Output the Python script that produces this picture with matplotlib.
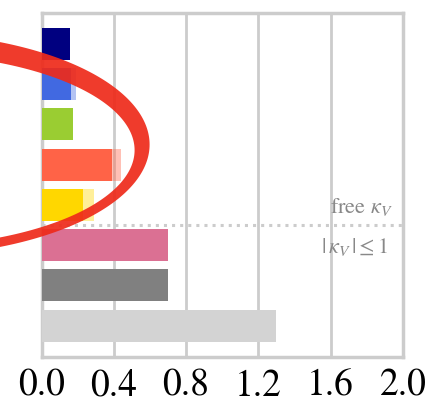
import numpy as np
import matplotlib
matplotlib.use("Agg")
import matplotlib.pyplot as plt
from matplotlib.path import Path
from matplotlib.patches import PathPatch

plt.rcParams['font.family'] = ['STIXGeneral', 'DejaVu Serif']
plt.rcParams['mathtext.fontset'] = 'stix'

# bar values, top to bottom
colors = ['navy', 'royalblue', 'yellowgreen', 'tomato', 'gold',
          'palevioletred', 'gray', 'lightgray']
values = [0.16, 0.165, 0.175, 0.39, 0.23, 0.70, 0.70, 1.30]
values_light = [0.16, 0.19, 0.175, 0.44, 0.29, 0.70, 0.70, 1.30]
xticks = [0.0, 0.4, 0.8, 1.2, 1.6, 2.0]
xtick_labels = ['0.0', '0.4', '0.8', '1.2', '1.6', '2.0']
split_pos = 4.5

# red crescent (outer / inner ellipse, data units)
outer = dict(cx=-0.787, cy=2.5, a=1.385, b=2.78)
inner = dict(cx=-0.787, cy=2.64, a=1.302, b=2.4)

fig = plt.figure(figsize=(4.27, 4.06), dpi=100)
ax = fig.add_axes([0.0972, 0.1182, 0.8466, 0.8485])

ypos = np.arange(len(values))
ax.barh(ypos, values_light, height=0.8, color=colors, alpha=0.4, zorder=2)
ax.barh(ypos, values, height=0.8, color=colors, zorder=3)

ax.set_xlim(0, 2.0)
ax.set_ylim(7.78, -0.78)
ax.set_xticks(xticks)
ax.set_xticklabels(xtick_labels, fontsize=27)
ax.set_yticks([])
ax.tick_params(axis='x', length=0, pad=8)
ax.xaxis.grid(True, color='#cccccc', lw=2.0, zorder=1)
ax.set_axisbelow(True)
for s in ax.spines.values():
    s.set_color('#cccccc')
    s.set_linewidth(2.5)

ax.axhline(split_pos, color='#cccccc', lw=2.2, ls=':', zorder=4)
ax.text(1.945, 4.175, r'free $\kappa_V$', ha='right', va='baseline',
        fontsize=16, color='#888888')
ax.text(1.92, 5.17, r'$|\,\kappa_V\,| \leq 1$', ha='right', va='baseline',
        fontsize=16, color='#888888')

t = np.linspace(0, 2 * np.pi, 400)
ox = outer['cx'] + outer['a'] * np.cos(t)
oy = outer['cy'] + outer['b'] * np.sin(t)
ix = inner['cx'] + inner['a'] * np.cos(t[::-1])
iy = inner['cy'] + inner['b'] * np.sin(t[::-1])
verts = np.concatenate([np.column_stack([ox, oy]), np.column_stack([ix, iy])])
codes = ([Path.MOVETO] + [Path.LINETO] * (len(t) - 2) + [Path.CLOSEPOLY]) * 2
ring = PathPatch(Path(verts, codes), facecolor='#ee2a1a', edgecolor='none',
                 alpha=0.92, zorder=6, clip_on=False)
ax.add_patch(ring)

fig.savefig('out.png', dpi=100)
